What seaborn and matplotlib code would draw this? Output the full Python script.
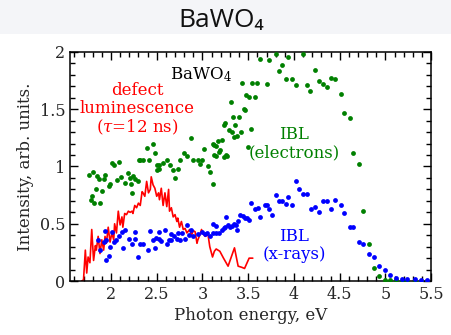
import numpy as np
import pandas as pd
import matplotlib
matplotlib.use('Agg')
import matplotlib.pyplot as plt
from matplotlib.ticker import MultipleLocator
from matplotlib.patches import Rectangle
import seaborn as sns

# IBL excited by electrons (green dots)
green_x = [1.76, 1.78, 1.79, 1.80, 1.82, 1.84, 1.85, 1.87, 1.88, 1.90, 1.92, 1.94, 1.98, 1.99,
           2.01, 2.03, 2.07, 2.09, 2.11, 2.15, 2.19, 2.21, 2.22, 2.23, 2.24, 2.26, 2.30, 2.31,
           2.32, 2.35, 2.39, 2.42, 2.46, 2.48, 2.50, 2.50, 2.52, 2.53, 2.57, 2.61, 2.64, 2.68,
           2.70, 2.73, 2.75, 2.80, 2.83, 2.88, 2.90, 2.95, 2.97, 2.99, 3.02, 3.06, 3.08, 3.11,
           3.12, 3.13, 3.13, 3.15, 3.15, 3.17, 3.18, 3.19, 3.21, 3.23, 3.24, 3.25, 3.26, 3.27,
           3.29, 3.31, 3.32, 3.33, 3.35, 3.36, 3.38, 3.40, 3.42, 3.43, 3.45, 3.46, 3.48, 3.50,
           3.51, 3.53, 3.54, 3.57, 3.60, 3.63, 3.70, 3.73, 3.80, 3.84, 3.87, 3.91, 3.94, 3.98,
           4.02, 4.10, 4.14, 4.18, 4.23, 4.27, 4.32, 4.36, 4.41, 4.45, 4.51, 4.55, 4.61, 4.65,
           4.71, 4.76, 4.82, 4.88, 4.93, 4.99, 5.05, 5.12, 5.18, 5.24, 5.32, 5.39, 5.45]
green_y = [0.93, 0.71, 0.74, 0.95, 0.68, 0.80, 0.92, 0.89, 0.68, 0.79, 0.89, 0.93, 0.83, 0.85,
           1.03, 1.01, 0.88, 1.04, 0.91, 0.86, 0.94, 0.90, 0.85, 0.77, 0.92, 0.89, 0.87, 1.06,
           1.06, 1.06, 1.16, 1.06, 1.20, 1.12, 1.01, 0.97, 1.01, 0.98, 1.03, 1.06, 1.01, 0.97,
           0.90, 0.98, 1.06, 1.12, 1.09, 1.25, 1.06, 1.06, 1.02, 1.06, 1.15, 1.00, 0.95, 0.85,
           1.20, 1.19, 1.10, 1.18, 1.09, 1.22, 1.13, 1.14, 1.23, 1.36, 1.08, 1.38, 1.10, 1.09,
           1.32, 1.56, 1.30, 1.43, 1.26, 1.36, 1.27, 1.43, 1.30, 1.73, 1.50, 1.49, 1.62, 1.17,
           1.61, 1.33, 1.73, 1.61, 1.73, 1.94, 1.72, 1.93, 1.98, 1.83, 1.89, 1.76, 1.96, 1.76,
           1.71, 1.98, 1.71, 1.66, 1.84, 1.75, 1.72, 1.69, 1.77, 1.76, 1.63, 1.47, 1.42, 1.12,
           1.02, 0.61, 0.32, 0.11, 0.04, 0.01, 0.005, 0.005, 0.003, 0.003, 0.002, 0.002, 0.002]

# IBL excited by x-rays (blue dots)
blue_x = [1.86, 1.88, 1.92, 1.94, 1.95, 1.95, 1.98, 1.99, 2.01, 2.03, 2.06, 2.09, 2.12, 2.13,
          2.15, 2.20, 2.23, 2.26, 2.26, 2.30, 2.32, 2.35, 2.41, 2.43, 2.46, 2.48, 2.49, 2.52,
          2.53, 2.55, 2.59, 2.61, 2.63, 2.66, 2.66, 2.69, 2.72, 2.73, 2.75, 2.78, 2.81, 2.83,
          2.85, 2.88, 2.90, 2.95, 3.00, 3.03, 3.05, 3.08, 3.11, 3.12, 3.15, 3.15, 3.18, 3.21,
          3.23, 3.25, 3.26, 3.28, 3.30, 3.32, 3.34, 3.37, 3.38, 3.39, 3.41, 3.44, 3.46, 3.49,
          3.51, 3.53, 3.57, 3.61, 3.63, 3.68, 3.71, 3.73, 3.76, 3.80, 3.84, 3.87, 3.91, 3.94,
          3.98, 4.02, 4.05, 4.10, 4.14, 4.19, 4.23, 4.27, 4.32, 4.36, 4.41, 4.45, 4.51, 4.55,
          4.61, 4.65, 4.71, 4.76, 4.82, 4.88, 4.93, 4.99, 5.05, 5.12, 5.18, 5.24, 5.32, 5.39, 5.45]
blue_y = [0.36, 0.27, 0.34, 0.44, 0.36, 0.18, 0.22, 0.30, 0.43, 0.34, 0.36, 0.39, 0.43, 0.29,
          0.45, 0.37, 0.32, 0.43, 0.37, 0.21, 0.32, 0.32, 0.27, 0.44, 0.36, 0.29, 0.38, 0.37,
          0.43, 0.35, 0.45, 0.32, 0.36, 0.41, 0.36, 0.39, 0.37, 0.42, 0.36, 0.42, 0.37, 0.49,
          0.40, 0.45, 0.39, 0.41, 0.43, 0.41, 0.42, 0.39, 0.42, 0.50, 0.48, 0.42, 0.42, 0.45,
          0.46, 0.47, 0.56, 0.49, 0.47, 0.48, 0.50, 0.49, 0.45, 0.52, 0.58, 0.57, 0.55, 0.55,
          0.53, 0.68, 0.63, 0.64, 0.56, 0.66, 0.66, 0.63, 0.58, 0.75, 0.70, 0.70, 0.67, 0.73,
          0.66, 0.87, 0.80, 0.76, 0.76, 0.63, 0.65, 0.60, 0.70, 0.70, 0.63, 0.71, 0.66, 0.59,
          0.47, 0.47, 0.34, 0.32, 0.24, 0.21, 0.13, 0.10, 0.05, 0.03, 0.02, 0.015, 0.015, 0.01, 0.01]

# defect luminescence (red line)
red_x = [1.68, 1.70, 1.72, 1.735, 1.75, 1.77, 1.79, 1.81, 1.83, 1.84, 1.86, 1.88, 1.90, 1.92,
         1.935, 1.95, 1.97, 1.99, 2.01, 2.03, 2.04, 2.06, 2.08, 2.10, 2.12, 2.13, 2.15, 2.17,
         2.19, 2.21, 2.23, 2.24, 2.26, 2.28, 2.30, 2.32, 2.34, 2.35, 2.37, 2.39, 2.41, 2.43,
         2.44, 2.46, 2.48, 2.50, 2.52, 2.53, 2.55, 2.57, 2.59, 2.61, 2.63, 2.64, 2.66, 2.68,
         2.70, 2.72, 2.73, 2.75, 2.77, 2.79, 2.81, 2.83, 2.84, 2.86, 2.88, 2.90, 2.92, 2.94,
         2.95, 2.97, 2.99, 3.00, 3.03, 3.06, 3.08, 3.11, 3.13, 3.15, 3.19, 3.23, 3.28, 3.35,
         3.39, 3.43, 3.46, 3.51, 3.55]
red_y = [0.00, 0.01, 0.27, 0.07, 0.21, 0.16, 0.45, 0.18, 0.31, 0.27, 0.39, 0.24, 0.36, 0.27,
         0.39, 0.33, 0.47, 0.34, 0.42, 0.36, 0.50, 0.42, 0.61, 0.49, 0.56, 0.47, 0.59, 0.58,
         0.61, 0.60, 0.61, 0.59, 0.66, 0.64, 0.68, 0.66, 0.78, 0.77, 0.74, 0.87, 0.77, 0.80,
         0.91, 0.84, 0.81, 0.74, 0.77, 0.71, 0.81, 0.66, 0.77, 0.65, 0.80, 0.61, 0.64, 0.56,
         0.58, 0.52, 0.55, 0.47, 0.52, 0.45, 0.46, 0.42, 0.43, 0.45, 0.40, 0.44, 0.43, 0.33,
         0.36, 0.40, 0.45, 0.42, 0.39, 0.41, 0.30, 0.21, 0.26, 0.28, 0.26, 0.20, 0.13, 0.29,
         0.13, 0.12, 0.11, 0.20, 0.20]

sns.set_style('ticks')
plt.rcParams['font.family'] = ['DejaVu Serif']
plt.rcParams['mathtext.fontset'] = 'dejavuserif'

green_df = pd.DataFrame({'energy': green_x, 'intensity': green_y})
blue_df = pd.DataFrame({'energy': blue_x, 'intensity': blue_y})
red_df = pd.DataFrame({'energy': red_x, 'intensity': red_y})

fig = plt.figure(figsize=(4.52, 3.35), dpi=100)
fig.patch.set_facecolor('white')
fig.patches.append(Rectangle((0, 0.9), 1, 0.1, transform=fig.transFigure,
                             facecolor='#f4f5f8', edgecolor='none', zorder=0))
fig.text(0.49, 0.94, 'BaWO₄', ha='center', va='center', fontsize=19,
         family=['Open Sans', 'Noto Sans', 'DejaVu Sans'], color='#111111')

ax = fig.add_axes([0.155, 0.161, 0.799, 0.684])

sns.scatterplot(data=green_df, x='energy', y='intensity', ax=ax, color='green',
                s=12, linewidth=0, zorder=3)
sns.scatterplot(data=blue_df, x='energy', y='intensity', ax=ax, color='blue',
                s=12, linewidth=0, zorder=3)
sns.lineplot(data=red_df, x='energy', y='intensity', ax=ax, color='red',
             sort=False, estimator=None, linewidth=1.2, zorder=2)

ax.set_xlim(1.553, 5.5)
ax.set_ylim(0, 2)
ax.xaxis.set_minor_locator(MultipleLocator(0.1))
ax.yaxis.set_minor_locator(MultipleLocator(0.1))
ax.set_xticks([2, 2.5, 3, 3.5, 4, 4.5, 5, 5.5])
ax.set_xticklabels(['2', '2.5', '3', '3.5', '4', '4.5', '5', '5.5'])
ax.set_yticks([0, 0.5, 1, 1.5, 2])
ax.set_yticklabels(['0', '0.5', '1', '1.5', '2'])
ax.tick_params(which='both', direction='in', top=True, right=True, labelsize=11.5,
               width=1, color='black')
ax.tick_params(which='major', length=6)
ax.tick_params(which='minor', length=3.5)
for sp in ax.spines.values():
    sp.set_linewidth(1.1)
    sp.set_color('black')

ax.set_xlabel('Photon energy, eV', fontsize=12, labelpad=3)
ax.set_ylabel('Intensity, arb. units.', fontsize=12)

ax.text(2.98, 1.80, r'BaWO$_4$', ha='center', va='center', fontsize=12, color='black')
ax.text(2.29, 1.50, 'defect\nluminescence\n' + r'($\tau$=12 ns)', ha='center', va='center',
        fontsize=12, color='red', linespacing=1.05)
ax.text(4.0, 1.20, 'IBL\n(electrons)', ha='center', va='center', fontsize=12,
        color='green', linespacing=1.05)
ax.text(4.0, 0.31, 'IBL\n(x-rays)', ha='center', va='center', fontsize=12,
        color='blue', linespacing=1.05)

fig.savefig('out.png', dpi=100, facecolor=fig.get_facecolor())
